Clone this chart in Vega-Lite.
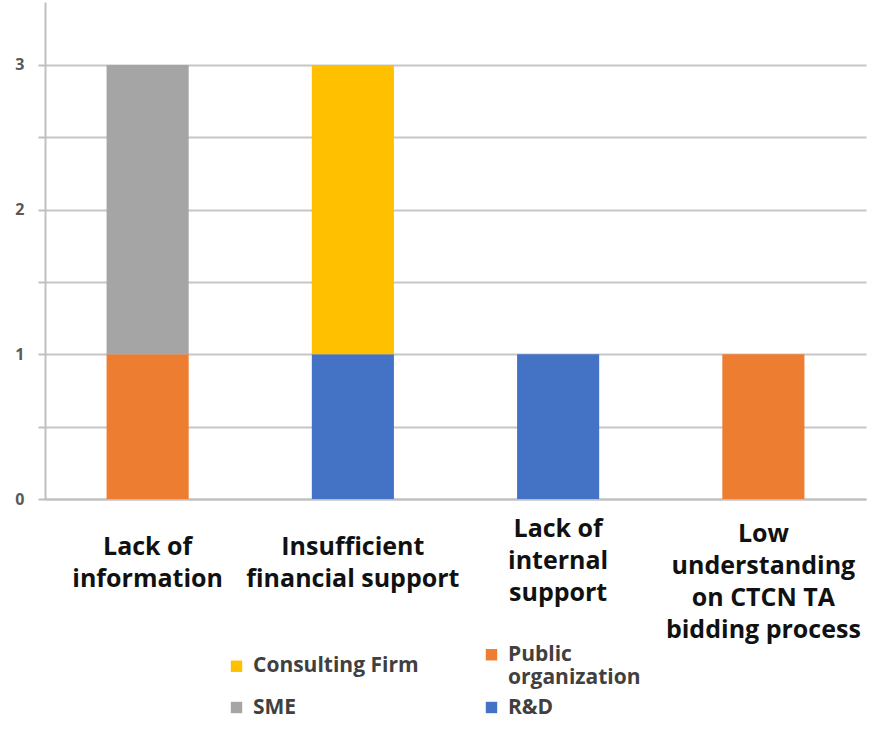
{
  "$schema": "https://vega.github.io/schema/vega-lite/v6.json",
  "autosize": "none",
  "padding": {"left": 45, "top": 2, "right": 18, "bottom": 230},
  "width": 821,
  "height": 497,
  "background": "white",
  "config": {"view": {"stroke": null}},
  "data": {
    "values": [
      {"barrier": "Lack of information", "group": "Public organization", "count": 1, "stack": 1},
      {"barrier": "Lack of information", "group": "SME", "count": 2, "stack": 2},
      {"barrier": "Insufficient financial support", "group": "R&D", "count": 1, "stack": 1},
      {"barrier": "Insufficient financial support", "group": "Consulting Firm", "count": 2, "stack": 2},
      {"barrier": "Lack of internal support", "group": "R&D", "count": 1, "stack": 1},
      {"barrier": "Low understanding on CTCN TA bidding process", "group": "Public organization", "count": 1, "stack": 1}
    ]
  },
  "mark": {"type": "bar"},
  "encoding": {
    "x": {
      "field": "barrier",
      "type": "nominal",
      "sort": ["Lack of information", "Insufficient financial support", "Lack of internal support", "Low understanding on CTCN TA bidding process"],
      "scale": {"paddingInner": 0.6, "paddingOuter": 0.3},
      "axis": {
        "title": null,
        "labelAngle": 0,
        "labelExpr": "datum.label == 'Lack of information' ? ['Lack of', 'information'] : datum.label == 'Insufficient financial support' ? ['Insufficient', 'financial support'] : datum.label == 'Lack of internal support' ? ['Lack of', 'internal', 'support'] : ['Low', 'understanding', 'on CTCN TA', 'bidding process']",
        "labelFont": "Open Sans",
        "labelFontSize": 25,
        "labelFontWeight": "bold",
        "labelColor": "#111111",
        "labelLineHeight": 32,
        "labelBaseline": "middle",
        "labelLimit": 400,
        "labelOverlap": false,
        "labelPadding": {"condition": [
          {"test": "datum.value == 'Low understanding on CTCN TA bidding process'", "value": 34},
          {"test": "datum.value == 'Lack of internal support'", "value": 29}
        ], "value": 47},
        "ticks": false,
        "tickSize": 0,
        "domainColor": "#bfbfbf",
        "domainWidth": 2
      }
    },
    "y": {
      "field": "count",
      "type": "quantitative",
      "stack": "zero",
      "scale": {"domain": [0, 3.435], "nice": false, "zero": true},
      "axis": {
        "title": null,
        "values": [0, 0.5, 1, 1.5, 2, 2.5, 3],
        "format": ".0f",
        "labelExpr": "datum.value % 1 == 0 ? datum.label : ''",
        "labelFont": "Open Sans",
        "labelFontSize": 16,
        "labelFontWeight": "bold",
        "labelColor": "#595959",
        "labelPadding": 14,
        "tickSize": 7,
        "tickColor": "#bfbfbf",
        "tickWidth": 2,
        "domainColor": "#bfbfbf",
        "domainWidth": 2,
        "grid": true,
        "gridColor": "#c6c6c6",
        "gridWidth": 2
      }
    },
    "order": {"field": "stack", "type": "quantitative", "sort": "ascending"},
    "color": {
      "field": "group",
      "type": "nominal",
      "scale": {
        "domain": ["Consulting Firm", "Public organization", "SME", "R&D"],
        "range": ["#FFC000", "#ED7D31", "#A5A5A5", "#4472C4"]
      },
      "legend": {
        "title": null,
        "orient": "none",
        "direction": "horizontal",
        "legendX": 181,
        "legendY": 642,
        "columns": 2,
        "columnPadding": 62,
        "rowPadding": 8,
        "symbolType": "square",
        "symbolSize": 130,
        "symbolStrokeWidth": 0,
        "labelOffset": 6,
        "labelFont": "Open Sans",
        "labelFontSize": 21,
        "labelFontWeight": "bold",
        "labelColor": "#404040",
        "labelLimit": 300,
        "labelExpr": "datum.label == 'Public organization' ? ['Public', 'organization'] : datum.label"
      }
    }
  }
}
